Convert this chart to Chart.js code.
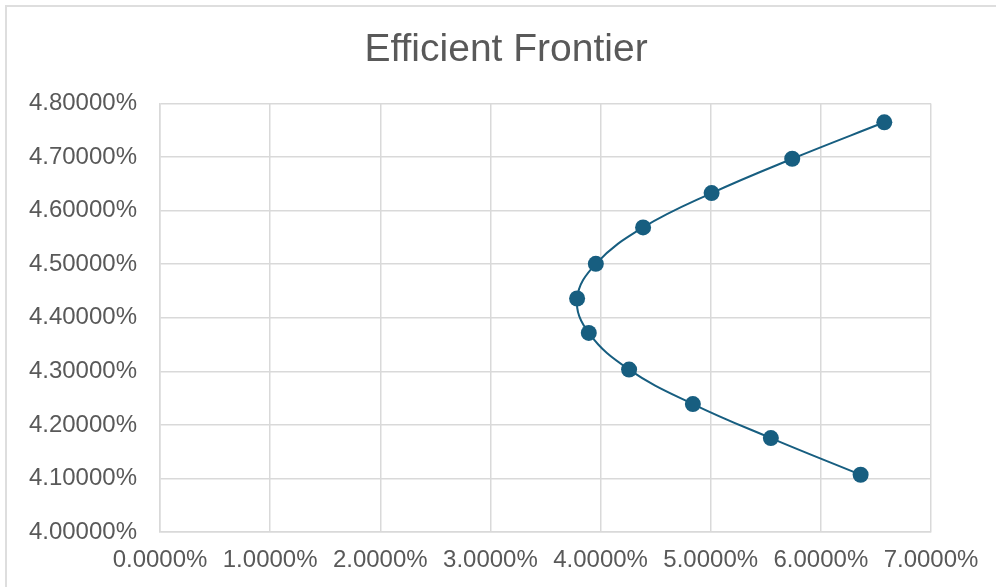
<!DOCTYPE html>
<html>
<head>
<meta charset="utf-8">
<script src="https://cdn.jsdelivr.net/npm/chart.js@4/dist/chart.umd.min.js"></script>
<style>
  body { margin: 0; background: #fff; }
  #frame { position: absolute; left: 5px; top: 5px; width: 1100px; height: 700px; border: 2px solid #dedede; }
  #chart { position: absolute; left: 0; top: 0; }
</style>
</head>
<body>
<div id="frame"></div>
<canvas id="chart" width="996" height="587"></canvas>
<script>
// portfolio risk (std dev, %) and expected return (%)
const riskPct = [6.361, 5.546, 4.838, 4.259, 3.893, 3.787, 3.957, 4.386, 5.008, 5.740, 6.576];
const returnPct = [4.1069, 4.1753, 4.2389, 4.3032, 4.3716, 4.4359, 4.5006, 4.5686, 4.6327, 4.6968, 4.7649];

const xTicks = [0, 1, 2, 3, 4, 5, 6, 7];
const yTicks = [4.0, 4.1, 4.2, 4.3, 4.4, 4.5, 4.6, 4.7, 4.8];

const chartTitle = "Efficient Frontier";
const textColor = "#595959";
const gridColor = "#d9d9d9";
const lineColor = "#175e80";
const fontFamily = "'Liberation Sans', Arial, sans-serif";

const points = riskPct.map((x, i) => ({ x: x, y: returnPct[i] }));

// title is centred on the whole picture, not on the plot, so draw it here
const centredTitle = {
  id: "centredTitle",
  afterDraw(chart) {
    const ctx = chart.ctx;
    ctx.save();
    ctx.font = "39px " + fontFamily;
    ctx.fillStyle = textColor;
    ctx.textAlign = "center";
    ctx.textBaseline = "middle";
    ctx.fillText(chartTitle, 506, 50);
    ctx.restore();
  }
};

new Chart(document.getElementById("chart"), {
  type: "scatter",
  data: {
    datasets: [{
      label: chartTitle,
      data: points,
      showLine: true,
      tension: 0.4,
      borderColor: lineColor,
      borderWidth: 2,
      backgroundColor: lineColor,
      pointBackgroundColor: lineColor,
      pointBorderColor: lineColor,
      pointRadius: 8,
      pointBorderWidth: 0
    }]
  },
  options: {
    responsive: false,
    animation: false,
    layout: { padding: { left: 0, right: 65, top: 103.5, bottom: 0 } },
    plugins: {
      legend: { display: false },
      tooltip: { enabled: false },
      title: { display: false }
    },
    scales: {
      x: {
        type: "linear",
        min: xTicks[0],
        max: xTicks[xTicks.length - 1],
        afterBuildTicks: s => { s.ticks = xTicks.map(v => ({ value: v })); },
        afterFit: s => { s.height = 55; },
        grid: { color: gridColor, lineWidth: 1.5, drawTicks: false },
        border: { color: gridColor, width: 1.5 },
        ticks: {
          color: textColor,
          font: { family: fontFamily, size: 24 },
          padding: 14,
          maxRotation: 0,
          callback: v => v.toFixed(4) + "%"
        }
      },
      y: {
        type: "linear",
        min: yTicks[0],
        max: yTicks[yTicks.length - 1],
        afterBuildTicks: s => { s.ticks = yTicks.map(v => ({ value: v })); },
        afterFit: s => { s.width = 160; },
        grid: { color: gridColor, lineWidth: 1.5, drawTicks: false },
        border: { color: gridColor, width: 1.5 },
        ticks: {
          color: textColor,
          font: { family: fontFamily, size: 24 },
          padding: 23,
          callback: v => v.toFixed(5) + "%"
        }
      }
    }
  },
  plugins: [centredTitle]
});
</script>
</body>
</html>
